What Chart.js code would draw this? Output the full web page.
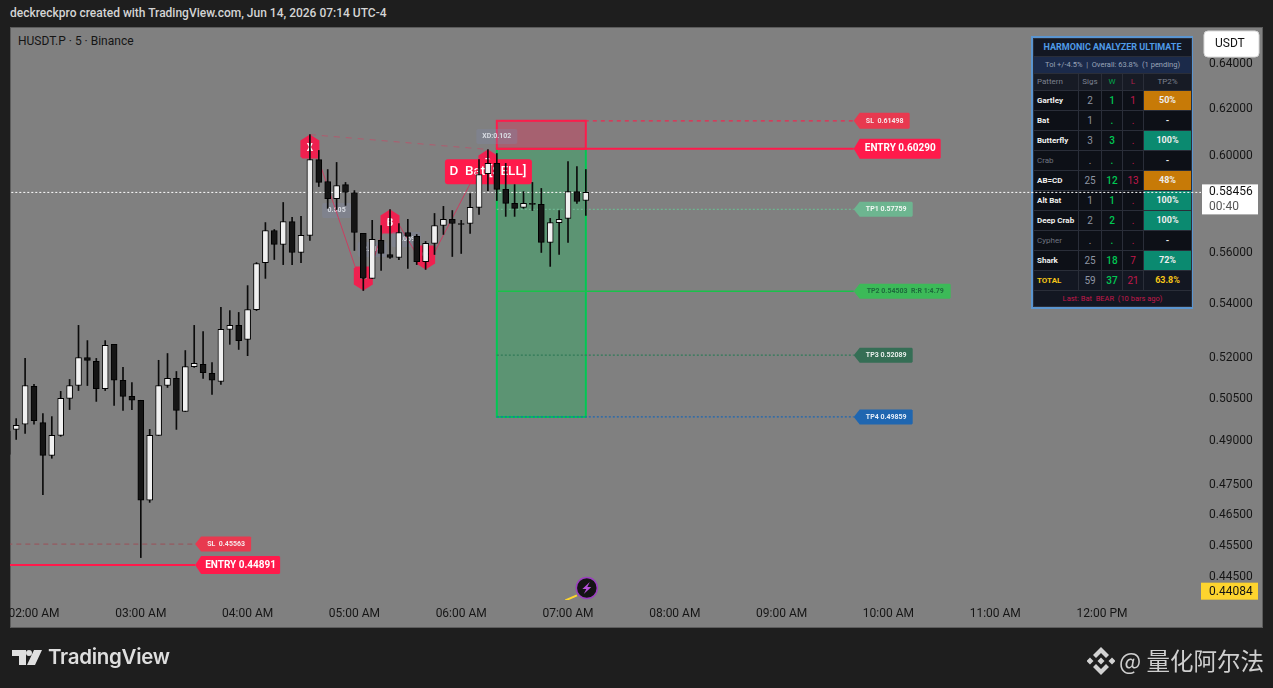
<!DOCTYPE html>
<html>
<head>
<meta charset="utf-8">
<title>HUSDT.P 5 Binance</title>
<script src="https://cdn.jsdelivr.net/npm/chart.js@4"></script>
<style>
    html, body { margin: 0; padding: 0; background: #1e1e1e; width: 1273px; height: 688px; overflow: hidden; }
    body { position: relative; font-family: Roboto, sans-serif; }
    #header { position: absolute; left: 10px; top: 6px; font-size: 12px; font-weight: 500; color: #d4d4d4; white-space: nowrap; }
    #pane { position: absolute; left: 10px; top: 27px; width: 1251px; height: 599px; background: #808080; border: 1px solid #5c5c5c; }
    #symbol { position: absolute; left: 18px; top: 34px; font-size: 12px; color: #151515; white-space: nowrap; }
    #chart { position: absolute; left: 0; top: 0; }
    #leftCover { position: absolute; left: 0; top: 600px; width: 10px; height: 28px; background: #1e1e1e; }
    #panel { position: absolute; left: 1031px; top: 36px; width: 158px; border: 2px solid #5b95d0; background: #0d1017; }
    #panel table { border-collapse: collapse; table-layout: fixed; width: 158px; }
    #panel td { box-sizing: border-box; border: 1px solid #2a2e39; padding: 0; line-height: 1; text-align: center; overflow: hidden; white-space: nowrap; height: 20px; font-size: 10px; color: #8f95a3; background: #0d1017; }
    #panel td.name { text-align: left; padding-left: 3px; font-size: 8px; font-weight: 700; color: #f0f0f0; }
    #panel td.dim { color: #6f7480; font-weight: 400; }
    #panel td.win { color: #00c853; font-weight: 500; }
    #panel td.loss { color: #c2184b; }
    #panel td.tp { font-size: 9px; font-weight: 700; color: #eeeeee; }
    #panel tr.title td { height: 18px; background: #131722; color: #4f9be8; font-size: 9px; font-weight: 700; }
    #panel tr.sub td { height: 17px; background: #1b2a4a; color: #9aa4b8; font-size: 7.5px; }
    #panel tr.head td { height: 17px; background: #171b25; font-size: 8px; color: #7c8190; }
    #panel tr.total td { background: #131722; }
    #panel tr.foot td { height: 16px; background: #131722; color: #c2184b; font-size: 7.5px; }
    #logo { position: absolute; left: 12px; top: 650px; }
    #brand { position: absolute; left: 48px; top: 644px; font-family: Inter, sans-serif; font-size: 20.5px; font-weight: 600; color: #dedede; letter-spacing: -0.3px; white-space: nowrap; }
    #coin { position: absolute; left: 1087px; top: 647px; }
    #mark { position: absolute; left: 1119px; top: 643px; font-family: "Noto Sans CJK SC", sans-serif; font-size: 23.5px; color: #cfcfcf; white-space: nowrap; }
</style>
</head>
<body>
<div id="header">deckreckpro created with TradingView.com, Jun 14, 2026 07:14 UTC-4</div>
<div id="pane"></div>
<div id="symbol">HUSDT.P · 5 · Binance</div>
<div id="panel"><table id="stats"></table></div>
<canvas id="chart" width="1273" height="688"></canvas>
<div id="leftCover"></div>
<svg id="logo" width="32" height="16" viewBox="0 0 32 16"><path fill="#e0e0e0" d="M0 0h14v15H7V6H0zM17 0a3 3 0 1 1 0 6a3 3 0 1 1 0-6zM22 0h8l-7 15h-8z"/></svg>
<div id="brand">TradingView</div>
<svg id="coin" width="28" height="28" viewBox="0 0 28 28"><path fill="#d2d2d2" d="M14 0l8 8-3 3-5-5-5 5-3-3zM14 28l-8-8 3-3 5 5 5-5 3 3zM3 10.500l3.500 3.500L3 17.500-.5 14zM25 10.500l3.500 3.500L25 17.500 21.500 14zM14 10.500l3.500 3.500L14 17.500 10.500 14z"/></svg>
<div id="mark">@ 量化阿尔法</div>
<script>
// 5 minute bars, index 0 is 02:00 AM
const barIndex = [-3,-2,-1,0,1,2,3,4,5,6,7,8,9,10,11,12,13,14,15,16,17,18,19,20,21,22,23,24,25,26,27,28,29,30,31,32,33,34,35,36,37,38,39,40,41,42,43,44,45,46,47,48,49,50,51,52,53,54,55,56,57,58,59,60,61,62];
const opens = [0.4935,0.4942,0.4960,0.5095,0.4966,0.4852,0.4921,0.5052,0.5098,0.5200,0.5186,0.5087,0.5249,0.5117,0.5059,0.5045,0.4700,0.4921,0.5098,0.5124,0.5005,0.5167,0.5175,0.5142,0.5113,0.5305,0.5320,0.5267,0.5380,0.5562,0.5690,0.5634,0.5726,0.5602,0.5670,0.5983,0.5891,0.5820,0.5878,0.5845,0.5678,0.5500,0.5650,0.5594,0.5582,0.5682,0.5666,0.5566,0.5638,0.5710,0.5735,0.5718,0.5718,0.5784,0.5924,0.5967,0.5858,0.5800,0.5784,0.5800,0.5796,0.5642,0.5722,0.5739,0.5849,0.5812];
const highs = [0.4935,0.4980,0.5197,0.5102,0.4998,0.4987,0.5077,0.5120,0.5320,0.5263,0.5197,0.5263,0.5249,0.5164,0.5109,0.5045,0.4942,0.5190,0.5215,0.5149,0.5226,0.5320,0.5297,0.5182,0.5388,0.5376,0.5369,0.5472,0.5562,0.5722,0.5694,0.5804,0.5743,0.5747,0.6090,0.6022,0.5941,0.5971,0.5887,0.5853,0.5678,0.5731,0.5710,0.5775,0.5718,0.5735,0.5674,0.5646,0.5759,0.5788,0.5771,0.5731,0.5841,0.5983,0.6026,0.6009,0.5967,0.5878,0.5849,0.5887,0.5862,0.5739,0.5771,0.5975,0.5954,0.5941];
const lows = [0.4855,0.4907,0.4928,0.4960,0.4719,0.4842,0.4918,0.5012,0.5080,0.5098,0.5041,0.5080,0.5027,0.5009,0.5012,0.4513,0.4693,0.4921,0.5091,0.4942,0.5005,0.5164,0.5124,0.5066,0.5102,0.5249,0.5230,0.5207,0.5376,0.5500,0.5574,0.5554,0.5554,0.5562,0.5650,0.5870,0.5780,0.5775,0.5792,0.5610,0.5453,0.5500,0.5531,0.5578,0.5574,0.5539,0.5554,0.5535,0.5594,0.5674,0.5586,0.5598,0.5678,0.5755,0.5853,0.5812,0.5747,0.5747,0.5780,0.5771,0.5602,0.5547,0.5594,0.5642,0.5800,0.5751];
const closes = [0.4855,0.4956,0.5098,0.4973,0.4852,0.4921,0.5052,0.5098,0.5200,0.5190,0.5087,0.5245,0.5117,0.5059,0.5045,0.4700,0.4921,0.5098,0.5124,0.5009,0.5167,0.5179,0.5145,0.5117,0.5305,0.5320,0.5263,0.5380,0.5558,0.5690,0.5634,0.5726,0.5602,0.5670,0.5983,0.5887,0.5820,0.5874,0.5845,0.5682,0.5500,0.5654,0.5598,0.5582,0.5682,0.5666,0.5566,0.5638,0.5710,0.5735,0.5718,0.5714,0.5784,0.5920,0.5967,0.5858,0.5800,0.5780,0.5800,0.5796,0.5642,0.5722,0.5735,0.5849,0.5808,0.58456];

const hourTicks = [0,12,24,36,48,60,72,84,96,108,120];
const hourLabels = ['02:00 AM','03:00 AM','04:00 AM','05:00 AM','06:00 AM','07:00 AM','08:00 AM','09:00 AM','10:00 AM','11:00 AM','12:00 PM'];
const priceTicks = [0.64,0.62,0.60,0.56,0.54,0.52,0.505,0.49,0.475,0.465,0.455,0.445];

// trade levels
const levelNames = ['SL','ENTRY','TP1','TP2','TP3','TP4'];
const levelPrices = [0.61498,0.6029,0.57759,0.54503,0.52089,0.49859];
const levelLabels = ['SL  0.61498','ENTRY 0.60290','TP1 0.57759','TP2 0.54503  R:R 1:4.79','TP3 0.52089','TP4 0.49859'];
const oldNames = ['OLDSL','OLDENTRY'];
const oldPrices = [0.45563,0.44891];
const oldLabels = ['SL  0.45563','ENTRY 0.44891'];
const tradeStart = 52, tradeEnd = 62, levelTagAt = 92.1, oldStart = -3, oldTagAt = 18.1;
const lastPrice = 0.58456, lastCountdown = '00:40', lowPrice = 0.44084;

// harmonic pattern
const patternLetters = ['X','A','B','C','D'];
const patternIdx = [31,37,40,44,51];
const patternPrices = [0.609,0.5453,0.5775,0.5535,0.6026];
const chipTexts = ['0.505','2.716','2.059','XD:0.102'];
const chipIdx = [34,38,41.8,52];
const chipPrices = [0.5771,0.5614,0.5654,0.6082];
const signalText = 'D  Bat [SELL]';
const signalPrice = 0.5932;

// table
const patternNames = ['Gartley','Bat','Butterfly','Crab','AB=CD','Alt Bat','Deep Crab','Cypher','Shark'];
const sigCounts = ['2','1','3','.','25','1','2','.','25'];
const winCounts = ['1','.','3','.','12','1','2','.','18'];
const lossCounts = ['1','.','.','.','13','.','.','.','7'];
const tp2Rates = ['50%','-','100%','-','48%','100%','100%','-','72%'];
const totals = ['TOTAL','59','37','21','63.8%'];

const lineStyles = {
    SL: { color: '#f0274f', width: 1.3, dash: [4, 4] },
    ENTRY: { color: '#ff1a4b', width: 2, dash: [] },
    TP1: { color: '#6db590', width: 1.2, dash: [2, 2] },
    TP2: { color: '#19c24a', width: 1.5, dash: [] },
    TP3: { color: '#2f7a58', width: 1.2, dash: [2, 2] },
    TP4: { color: '#1f66b0', width: 1.2, dash: [2, 2] },
    OLDSL: { color: '#9a5058', width: 1, dash: [5, 4] },
    OLDENTRY: { color: '#ff1a4b', width: 2, dash: [] }
};
const tagStyles = {
    SL: { w: 56, h: 16, fill: '#e8394f', text: '#f6e6e8', font: 'bold 7px Roboto' },
    ENTRY: { w: 87, h: 20, fill: '#ff1a4b', text: '#ffffff', font: 'bold 10px Roboto' },
    TP1: { w: 59, h: 15, fill: '#6db590', text: '#f2f8f4', font: 'bold 7px Roboto' },
    TP2: { w: 97, h: 15, fill: '#3cba58', text: '#1d6a3c', font: 'bold 7px Roboto' },
    TP3: { w: 59, h: 15, fill: '#356e55', text: '#e8f0ec', font: 'bold 7px Roboto' },
    TP4: { w: 59, h: 15, fill: '#1f66b0', text: '#e6eef8', font: 'bold 7px Roboto' },
    OLDSL: { w: 56, h: 15, fill: '#e8394f', text: '#f6e6e8', font: 'bold 7px Roboto' },
    OLDENTRY: { w: 85, h: 18, fill: '#ff1a4b', text: '#ffffff', font: 'bold 10px Roboto' }
};

// fill the table panel
function cell(text, cls) { return '<td class="' + (cls || '') + '">' + text + '</td>'; }
let rows = '<colgroup><col style="width:45px"><col style="width:23px"><col style="width:21px"><col style="width:21px"><col style="width:48px"></colgroup>';
rows += '<tr class="title"><td colspan="5">HARMONIC ANALYZER ULTIMATE</td></tr>';
rows += '<tr class="sub"><td colspan="5">Tol +/-4.5% &nbsp;|&nbsp; Overall: 63.8% &nbsp;(1 pending)</td></tr>';
rows += '<tr class="head"><td style="text-align:left;padding-left:3px">Pattern</td><td>Sigs</td><td style="color:#00a84a">W</td><td style="color:#b0204a">L</td><td>TP2%</td></tr>';
patternNames.forEach((name, i) => {
    const off = sigCounts[i] === '.';
    const rate = parseFloat(tp2Rates[i]);
    const rateBg = isNaN(rate) ? '#0d1017' : (rate >= 70 ? '#0b8a70' : '#c77a07');
    rows += '<tr>' + cell(name, off ? 'name dim' : 'name') + cell(sigCounts[i]) + cell(winCounts[i], 'win') + cell(lossCounts[i], 'loss')
        + '<td class="tp" style="background:' + rateBg + '">' + tp2Rates[i] + '</td></tr>';
});
rows += '<tr class="total"><td class="name" style="color:#f5c518">' + totals[0] + '</td>' + cell(totals[1]) + cell(totals[2], 'win') + cell(totals[3], 'loss')
    + '<td class="tp" style="color:#f5c518;background:#131722">' + totals[4] + '</td></tr>';
rows += '<tr class="foot"><td colspan="5">Last: Bat &nbsp;BEAR &nbsp;(10 bars ago)</td></tr>';
document.getElementById('stats').innerHTML = rows;

function roundedRect(ctx, x, y, w, h, r) {
    ctx.beginPath();
    ctx.roundRect(x, y, w, h, r);
}

function drawTag(ctx, x, y, label, st) {
    const t = y - st.h / 2, b = y + st.h / 2;
    ctx.fillStyle = st.fill;
    ctx.beginPath();
    ctx.moveTo(x, y);
    ctx.lineTo(x + 6, t);
    ctx.lineTo(x + st.w - 1, t);
    ctx.lineTo(x + st.w, t + 1);
    ctx.lineTo(x + st.w, b - 1);
    ctx.lineTo(x + st.w - 1, b);
    ctx.lineTo(x + 6, b);
    ctx.closePath();
    ctx.fill();
    ctx.fillStyle = st.text;
    ctx.font = st.font;
    ctx.textAlign = 'center';
    ctx.textBaseline = 'middle';
    ctx.fillText(label, x + (st.w + 6) / 2, y);
}

// pentagon with its tip on the price, pointing up for highs and down for lows
function drawMarker(ctx, x, y, up, letter) {
    const dir = up ? 1 : -1;
    ctx.fillStyle = '#f0204f';
    ctx.beginPath();
    ctx.moveTo(x, y);
    ctx.lineTo(x + 9.5, y + dir * 6);
    ctx.lineTo(x + 9.5, y + dir * 22);
    ctx.lineTo(x + 7.5, y + dir * 24);
    ctx.lineTo(x - 7.5, y + dir * 24);
    ctx.lineTo(x - 9.5, y + dir * 22);
    ctx.lineTo(x - 9.5, y + dir * 6);
    ctx.closePath();
    ctx.fill();
    ctx.fillStyle = '#ffffff';
    ctx.font = 'bold 10px Roboto';
    ctx.textAlign = 'center';
    ctx.textBaseline = 'middle';
    ctx.fillText(letter, x, y + dir * 14);
}

const overlayPlugin = {
    id: 'overlay',
    beforeDatasetsDraw(chart) {
        const { ctx, scales: { x, y } } = chart;
        ctx.save();
        // trade boxes
        const left = x.getPixelForValue(tradeStart), right = x.getPixelForValue(tradeEnd);
        const slY = y.getPixelForValue(levelPrices[0]), entryY = y.getPixelForValue(levelPrices[1]), tp4Y = y.getPixelForValue(levelPrices[5]);
        ctx.fillStyle = 'rgba(255,26,75,0.3)';
        ctx.fillRect(left, slY, right - left, entryY - slY);
        ctx.fillStyle = 'rgba(0,200,83,0.28)';
        ctx.fillRect(left, entryY, right - left, tp4Y - entryY);
        ctx.lineWidth = 2;
        ctx.strokeStyle = '#00c853';
        ctx.strokeRect(left, entryY, right - left, tp4Y - entryY);
        ctx.strokeStyle = '#ff1a4b';
        ctx.strokeRect(left, slY, right - left, entryY - slY);
        // pattern markers and chips sit under the candles
        patternLetters.forEach((letter, i) => {
            drawMarker(ctx, x.getPixelForValue(patternIdx[i]), y.getPixelForValue(patternPrices[i]), i % 2 === 0, letter);
        });
        const sx = x.getPixelForValue(patternIdx[4]), sy = y.getPixelForValue(signalPrice);
        ctx.fillStyle = '#ff1a4b';
        roundedRect(ctx, sx - 43, sy - 12.5, 87, 25, 3);
        ctx.fill();
        ctx.fillStyle = '#ffffff';
        ctx.font = '500 13.5px Roboto';
        ctx.textAlign = 'center';
        ctx.textBaseline = 'middle';
        ctx.fillText(signalText, sx, sy);
        chipTexts.forEach((text, i) => {
            const cx = x.getPixelForValue(chipIdx[i]), cy = y.getPixelForValue(chipPrices[i]);
            const w = text.length > 5 ? 41 : 29;
            ctx.fillStyle = 'rgba(125,135,165,0.35)';
            roundedRect(ctx, cx - w / 2, cy - 7.5, w, 15, 2);
            ctx.fill();
            ctx.fillStyle = '#d9dce3';
            ctx.font = 'bold 7px Roboto';
            ctx.fillText(text, cx, cy);
        });
        ctx.restore();
    },
    afterDraw(chart) {
        const { ctx, scales: { x, y }, chartArea } = chart;
        ctx.save();
        levelNames.forEach((name, i) => {
            drawTag(ctx, x.getPixelForValue(levelTagAt), y.getPixelForValue(levelPrices[i]), levelLabels[i], tagStyles[name]);
        });
        oldNames.forEach((name, i) => {
            drawTag(ctx, x.getPixelForValue(oldTagAt), y.getPixelForValue(oldPrices[i]), oldLabels[i], tagStyles[name]);
        });

        // lightning badge at the last bar
        const bx = x.getPixelForValue(barIndex[barIndex.length - 1]) + 1, by = chartArea.bottom - 12;
        ctx.beginPath();
        ctx.arc(bx, by, 10.5, 0, Math.PI * 2);
        ctx.fillStyle = '#141414';
        ctx.fill();
        ctx.lineWidth = 1.5;
        ctx.strokeStyle = '#9c3fc0';
        ctx.stroke();
        ctx.fillStyle = '#b44fd8';
        ctx.beginPath();
        ctx.moveTo(bx + 3, by - 6);
        ctx.lineTo(bx - 4.5, by + 1);
        ctx.lineTo(bx - 0.5, by + 1);
        ctx.lineTo(bx - 3, by + 6);
        ctx.lineTo(bx + 4.5, by - 1);
        ctx.lineTo(bx + 0.5, by - 1);
        ctx.closePath();
        ctx.fill();

        // price axis labels
        const ax = chartArea.right;
        const ly = y.getPixelForValue(lastPrice);
        ctx.fillStyle = '#ffffff';
        ctx.fillRect(ax + 1, ly - 8, 56, 30);
        ctx.textAlign = 'left';
        ctx.textBaseline = 'middle';
        ctx.font = '12px Roboto';
        ctx.fillStyle = '#131313';
        ctx.fillText(lastPrice.toFixed(5), ax + 8, ly);
        ctx.fillStyle = '#555555';
        ctx.fillText(lastCountdown, ax + 8, ly + 15);

        const lowY = y.getPixelForValue(lowPrice);
        ctx.fillStyle = '#fdd42e';
        ctx.fillRect(ax, lowY - 8, 57, 17);
        ctx.fillStyle = '#131313';
        ctx.fillText(lowPrice.toFixed(5), ax + 8, lowY + 1);

        // currency button
        ctx.fillStyle = '#ffffff';
        ctx.strokeStyle = '#d8d8d8';
        ctx.lineWidth = 1;
        roundedRect(ctx, ax + 3, chartArea.top + 4, 55, 26, 4);
        ctx.fill();
        ctx.stroke();
        ctx.fillStyle = '#131313';
        ctx.fillText('USDT', ax + 14, chartArea.top + 17);
        ctx.restore();
    }
};

const wickData = barIndex.map((idx, i) => ({ x: idx, y: [lows[i], highs[i]] }));
const bodyData = barIndex.map((idx, i) => ({ x: idx, y: [opens[i], closes[i]] }));
const isUp = barIndex.map((idx, i) => closes[i] >= opens[i]);

function levelLine(name, price, from, to) {
    const st = lineStyles[name];
    return { type: 'line', order: 5, data: [{ x: from, y: price }, { x: to, y: price }], borderColor: st.color, borderWidth: st.width, borderDash: st.dash, pointRadius: 0 };
}

const lineSets = [
    ...levelNames.map((name, i) => levelLine(name, levelPrices[i], tradeStart, levelTagAt)),
    ...oldNames.map((name, i) => levelLine(name, oldPrices[i], oldStart, oldTagAt)),
    { type: 'line', order: 4, data: [{ x: -3, y: lastPrice }, { x: 132, y: lastPrice }], borderColor: '#ffffff', borderWidth: 1, borderDash: [2, 2], pointRadius: 0 },
    { type: 'line', order: 4, data: patternIdx.map((idx, i) => ({ x: idx, y: patternPrices[i] })), borderColor: 'rgba(225,40,85,0.75)', borderWidth: 1, pointRadius: 0 },
    { type: 'line', order: 4, data: [{ x: patternIdx[0], y: patternPrices[0] }, { x: patternIdx[4], y: patternPrices[4] }], borderColor: 'rgba(215,60,95,0.55)', borderWidth: 1, borderDash: [6, 6], pointRadius: 0 },
    { type: 'line', order: 4, data: [{ x: 59.7, y: 0.4378 }, { x: 61, y: 0.4394 }], borderColor: '#fdd42e', borderWidth: 2, pointRadius: 0 }
];

new Chart(document.getElementById('chart'), {
    type: 'bar',
    data: {
        datasets: [
            ...lineSets,
            { order: 3, data: wickData, barThickness: 1, backgroundColor: '#0b0b0b', grouped: false },
            {
                order: 2,
                data: bodyData,
                barThickness: 6,
                grouped: false,
                backgroundColor: isUp.map(up => up ? '#f0f0f0' : '#151515'),
                borderColor: '#000000',
                borderWidth: 1,
                borderSkipped: false
            }
        ]
    },
    options: {
        responsive: false,
        animation: false,
        events: [],
        layout: { autoPadding: false, padding: { left: 10, top: 27, right: 10, bottom: 60 } },
        plugins: { legend: { display: false }, tooltip: { enabled: false } },
        scales: {
            x: {
                type: 'linear',
                min: -2.6966,
                max: 131.12,
                offset: false,
                grid: { display: false, drawTicks: false },
                border: { display: false },
                afterFit(scale) { scale.height = 28; },
                afterBuildTicks(scale) { scale.ticks = hourTicks.map(v => ({ value: v })); },
                ticks: {
                    autoSkip: false,
                    maxRotation: 0,
                    padding: 7,
                    color: '#151515',
                    font: { family: 'Roboto', size: 12 },
                    callback: (v, i) => hourLabels[i]
                }
            },
            y: {
                type: 'logarithmic',
                position: 'right',
                min: 0.43794,
                max: 0.65723,
                grid: { display: false, drawTicks: false },
                border: { display: false },
                afterFit(scale) { scale.width = 62; },
                afterBuildTicks(scale) { scale.ticks = priceTicks.map(v => ({ value: v })); },
                ticks: {
                    autoSkip: false,
                    padding: 8,
                    color: '#151515',
                    font: { family: 'Roboto', size: 12 },
                    callback: v => v.toFixed(5)
                }
            }
        }
    },
    plugins: [overlayPlugin]
});
</script>
</body>
</html>
